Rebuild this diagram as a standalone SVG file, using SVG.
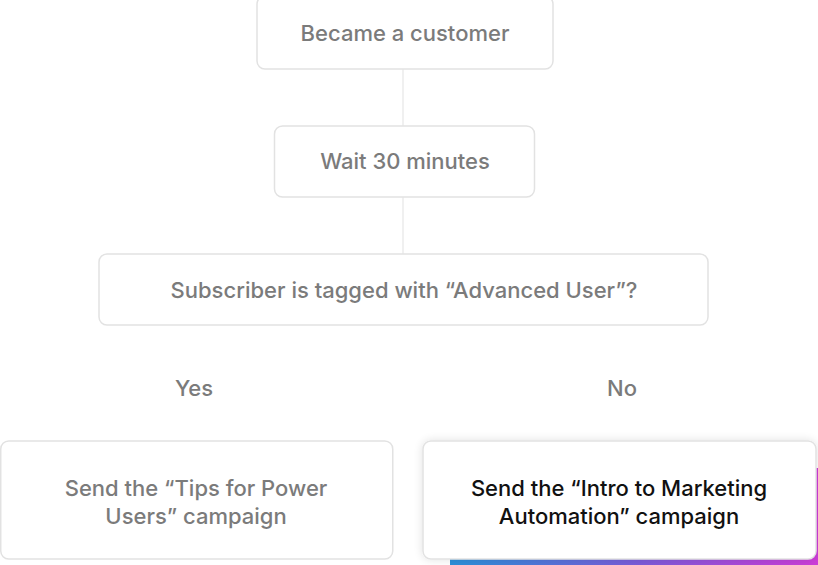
<svg xmlns="http://www.w3.org/2000/svg" width="818" height="565" viewBox="0 0 818 565">
<defs>
<style>
.box{fill:#ffffff;stroke:#e2e2e2;stroke-width:1.5}
.t{font-family:Inter,"Open Sans","Liberation Sans",sans-serif;font-size:22px;font-weight:500;fill:#7b7b7b;text-anchor:middle}
.dark{fill:#111111}
.conn{stroke:#ebebeb;stroke-width:1.5;fill:none}
</style>
<linearGradient id="grad" x1="0" y1="0" x2="1" y2="0">
<stop offset="0" stop-color="#2a8fd8"/>
<stop offset="0.5" stop-color="#7a5ad8"/>
<stop offset="1" stop-color="#d23ad8"/>
</linearGradient>
<filter id="sh" x="-10%" y="-20%" width="120%" height="140%">
<feGaussianBlur in="SourceAlpha" stdDeviation="5"/>
<feComponentTransfer><feFuncA type="linear" slope="0.12"/></feComponentTransfer>
<feMerge><feMergeNode/><feMergeNode in="SourceGraphic"/></feMerge>
</filter>
</defs>
<rect width="818" height="565" fill="#ffffff"/>
<g id="connectors">
<line class="conn" x1="403" y1="69" x2="403" y2="126"/>
<line class="conn" x1="403" y1="197" x2="403" y2="254"/>
</g>
<g id="n1">
<rect class="box" x="257" y="-4" width="296" height="73" rx="8"/>
<text class="t" x="405" y="41">Became a customer</text>
</g>
<g id="n2">
<rect class="box" x="274.5" y="126" width="260" height="71" rx="8"/>
<text class="t" x="405" y="169">Wait 30 minutes</text>
</g>
<g id="n3">
<rect class="box" x="99" y="254" width="609" height="71" rx="8"/>
<text class="t" x="404" y="298">Subscriber is tagged with “Advanced User”?</text>
</g>
<g id="yes">
<text class="t" x="194" y="396">Yes</text>
</g>
<g id="no">
<text class="t" x="622" y="396">No</text>
</g>
<g id="n4">
<rect class="box" x="0.75" y="441" width="392" height="118" rx="8"/>
<text class="t" x="196" y="496">Send the “Tips for Power</text>
<text class="t" x="196" y="524">Users” campaign</text>
</g>
<g id="n5">
<rect x="450" y="468" width="380" height="110" fill="url(#grad)"/>
<rect class="box" x="423" y="441" width="393" height="118" rx="8" filter="url(#sh)"/>
<text class="t dark" x="619" y="496">Send the “Intro to Marketing</text>
<text class="t dark" x="619" y="524">Automation” campaign</text>
</g>
</svg>
